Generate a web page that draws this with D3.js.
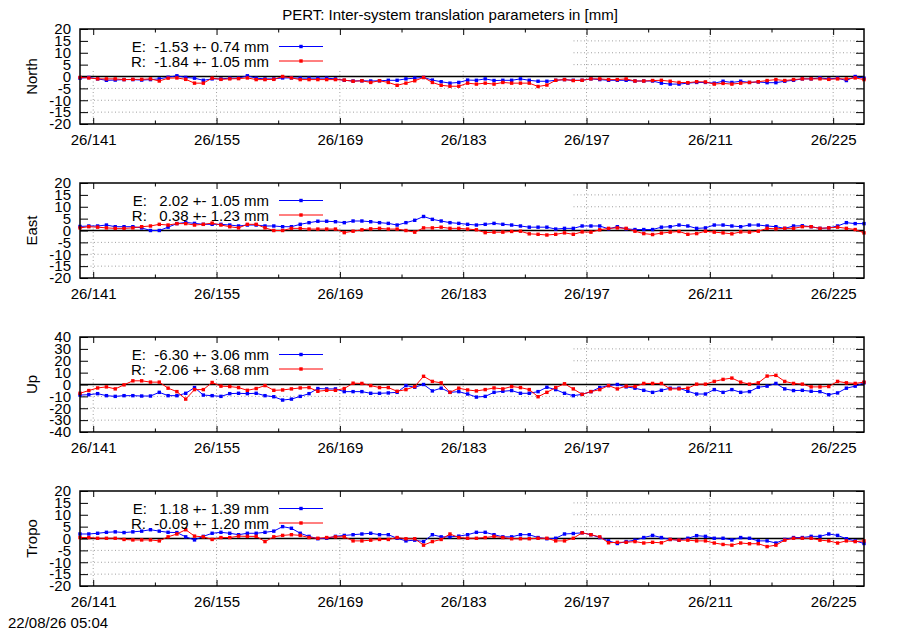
<!DOCTYPE html>
<html lang="en">

<head>
    <meta charset="UTF-8">
    <title>PERT: Inter-system translation parameters</title>
    <script src="https://d3js.org/d3.v7.min.js"></script>
    <style>
        body { margin: 0; background: #fff; }
        text { font-family: "Liberation Sans", Arial, sans-serif; font-size: 15px; fill: #000; }
    </style>
</head>

<body>
    <script>
        // day of year of the first daily solution (noon), year 2026
        var firstDay = 139.5;
        var lastDay = 228.5;
        var components = ["North", "East", "Up", "Tropo"];
        var yLimits = [20, 20, 40, 20];
        var yStep = [5, 5, 10, 5];
        var majorDays = [141, 155, 169, 183, 197, 211, 225];
        var minorDays = [148, 162, 176, 190, 204, 218];
        var tickYear = "26";
        var title = "PERT: Inter-system translation parameters in [mm]";
        var stamp = "22/08/26 05:04";

        // legend statistics (mean, rms) per component
        var eMean = [-1.53, 2.02, -6.30, 1.18];
        var eStd = [0.74, 1.05, 3.06, 1.39];
        var rMean = [-1.84, 0.38, -2.06, -0.09];
        var rStd = [1.05, 1.23, 3.68, 1.20];

        var northE = [-0.7, -0.4, -1.0, -1.6, -1.5, -1.3, -1.3, -1.5, -1.3, -1.0,
            -0.3, 0.3, -0.4, -0.7, -1.6, -1.0, -1.0, -0.7, -0.7, 0.3,
            -0.7, -1.0, -1.0, -0.6, -0.6, -0.7, -0.7, -0.7, -0.7, -1.0,
            -1.6, -1.9, -1.8, -1.9, -1.8, -1.6, -1.6, -1.0, -0.7, -0.4,
            -1.5, -2.2, -2.8, -2.5, -1.5, -1.6,
            -1.0, -1.7, -1.6, -1.6, -1.0, -1.6, -2.0, -2.0, -1.6, -1.3,
            -1.6, -1.6, -1.0, -1.3, -1.6, -1.6, -1.6, -1.9, -1.9, -1.9,
            -2.8, -3.2, -3.2, -2.8, -2.5, -2.5, -2.8, -2.0, -2.5, -2.0,
            -2.5, -2.3, -2.6, -2.6, -2.0, -1.6, -1.0, -1.0, -0.6, -1.0,
            -0.7, -1.7, 0.0, -0.7];
        var northR = [-0.4, -0.6, -1.0, -1.0, -1.0, -1.3, -1.2, -1.2, -1.0, -1.9,
            -0.7, -0.6, -1.2, -2.8, -2.8, -0.7, -1.2, -1.0, -0.9, -0.6,
            -1.3, -1.3, -1.2, 0.0, -0.6, -1.3, -1.3, -1.3, -1.3, -1.3,
            -1.5, -2.0, -1.8, -2.5, -1.8, -2.5, -3.7, -2.8, -1.8, -0.4,
            -2.5, -3.7, -4.1, -4.1, -2.8, -3.2,
            -2.8, -3.2, -2.5, -2.8, -2.8, -2.8, -4.2, -3.6, -1.6, -1.3,
            -1.7, -1.6, -1.0, -1.0, -1.3, -1.3, -1.0, -1.9, -1.9, -1.7,
            -1.6, -2.0, -2.5, -2.6, -2.2, -2.3, -3.2, -2.9, -3.2, -2.8,
            -2.5, -2.2, -1.7, -1.3, -1.7, -1.3, -1.0, -1.0, -1.0, -1.2,
            -1.0, -1.0, -0.6, -1.3];
        var eastE = [1.7, 1.9, 1.9, 2.3, 1.6, 1.6, 1.6, 1.1, 0.0, 0.0,
            1.4, 2.9, 3.4, 3.0, 2.6, 2.6, 2.6, 2.3, 1.9, 2.3,
            2.3, 1.9, 1.9, 1.6, 1.6, 2.6, 3.3, 3.9, 3.9, 3.7,
            3.3, 4.0, 4.0, 3.7, 3.3, 3.0, 2.3, 3.3, 4.3, 5.9,
            4.7, 4.0, 3.3, 3.0, 2.6, 2.3,
            2.6, 3.0, 2.6, 2.3, 1.9, 1.4, 1.4, 1.4, 0.6, 0.9,
            0.9, 1.9, 1.9, 1.9, 0.7, 1.6, 0.7, 0.4, 0.4, 0.4,
            1.4, 1.6, 2.3, 1.9, 0.9, 1.1, 2.3, 2.3, 1.9, 1.6,
            2.3, 2.3, 1.9, 1.6, 0.9, 1.9, 2.0, 1.6, 0.9, 1.1,
            1.9, 3.3, 2.9, 2.9];
        var eastR = [1.1, 1.6, 1.4, 1.1, 0.9, 0.9, 1.1, 1.6, 1.9, 2.6,
            2.3, 2.9, 2.9, 2.3, 2.6, 3.1, 2.3, 1.6, 1.1, 2.6,
            2.6, 1.1, 0.0, 0.0, 0.9, 0.9, 0.6, 0.6, 0.6, 0.6,
            -0.9, -0.3, 0.3, 0.7, 0.9, 0.6, 0.6, 0.0, -0.7, 1.1,
            1.1, 1.4, 0.9, 0.9, 0.6, 0.3,
            -0.9, -0.7, -0.7, -0.4, -0.3, -1.4, -1.6, -1.9, -1.6, -1.0,
            -1.6, -0.6, -0.7, 0.3, 0.9, 1.1, 0.9, -0.3, -1.3, -1.7,
            -1.1, -0.7, -0.4, -1.6, -1.3, -0.3, -0.7, -1.0, -1.4, -0.6,
            -0.7, -0.3, 0.9, 0.7, 0.9, 0.9, 1.6, 1.6, 0.9, 1.1,
            1.4, 0.9, 0.4, -1.0];
        var upE = [-8.9, -8.6, -7.7, -9.4, -10.0, -9.4, -9.4, -9.7, -9.7, -6.6,
            -9.4, -9.4, -7.4, -2.6, -8.9, -9.4, -10.0, -7.7, -7.4, -7.7,
            -7.4, -9.4, -10.3, -13.1, -12.3, -10.0, -7.7, -3.4, -3.7, -3.7,
            -6.0, -6.0, -6.0, -7.4, -7.4, -7.1, -6.6, -0.9, -2.3, 0.0,
            -5.4, -3.1, -6.6, -6.0, -8.0, -10.6,
            -10.0, -6.6, -5.7, -5.1, -7.4, -7.4, -6.0, -2.3, -4.3, -7.4,
            -9.4, -8.3, -6.0, -2.6, -0.9, 0.0, -2.0, -3.1, -4.9, -6.6,
            -4.9, -3.1, -3.1, -5.7, -8.0, -8.0, -4.3, -6.6, -4.3, -6.6,
            -6.0, -2.3, -1.4, 0.9, -3.7, -5.1, -4.9, -5.7, -6.0, -8.6,
            -7.1, -3.1, -1.4, 1.4];
        var upR = [-7.4, -5.1, -2.9, -2.0, -3.7, -0.3, 3.1, 3.1, 2.0, 2.0,
            -3.1, -6.0, -12.3, -4.3, -4.3, 1.7, -1.4, -1.7, -2.6, -4.9,
            -3.4, -0.9, -4.9, -4.6, -3.7, -2.9, -2.6, -5.7, -4.9, -4.9,
            -3.4, 1.1, 0.9, -0.9, -2.6, -2.6, -5.7, -4.3, -1.7, 6.9,
            2.6, 1.4, -6.6, -3.1, -4.6, -5.4,
            -4.3, -2.9, -3.7, -1.7, -2.6, -4.3, -10.3, -6.6, -2.6, 0.6,
            -3.7, -8.3, -6.0, -4.3, -0.9, -3.7, -1.4, -1.7, 0.9, 0.9,
            0.9, -3.7, -3.7, -3.1, 0.3, 0.3, 2.6, 4.3, 5.4, 2.0,
            0.3, 1.4, 7.1, 7.7, 2.6, 0.9, 0.3, -2.0, -2.0, -1.7,
            2.6, 1.4, 0.9, 2.0];
        var tropoE = [1.9, 1.9, 2.2, 2.6, 2.8, 2.5, 2.8, 3.1, 3.7, 3.1,
            2.6, 2.5, 0.7, -0.6, 0.9, 2.2, 2.6, 2.2, 1.6, 2.2,
            2.2, 2.6, 3.1, 5.0, 4.3, 2.2, 0.9, -0.1, 0.1, 0.9,
            1.3, 1.6, 1.9, 2.2, 1.6, 1.6, 0.1, -1.0, -0.7, -1.3,
            1.6, 0.7, 0.7, 1.0, 1.6, 2.6,
            2.6, 1.6, 0.7, 0.7, 1.6, 1.6, 0.4, -0.1, 0.1, 1.9,
            2.1, 2.4, 1.6, 0.4, -1.0, -2.1, -1.3, -0.7, 0.4, 1.3,
            0.4, -0.4, -0.7, 0.1, 1.2, 0.9, 0.1, 0.1, -0.6, 0.4,
            0.1, -1.0, -1.0, -1.9, -0.4, 0.4, 0.4, 0.9, 0.9, 1.9,
            1.3, -0.1, -1.0, -2.1];
        var tropoR = [0.4, 0.4, 0.1, 0.1, 0.1, -0.4, -0.6, -0.6, -0.6, -1.0,
            0.7, 1.9, 3.7, 1.0, 0.7, -0.4, 0.4, 0.4, 1.0, 0.9,
            0.9, -1.3, 0.7, 1.3, 1.6, 1.3, 0.4, 0.1, 0.4, 0.7,
            0.7, -1.0, -1.0, -0.7, -0.4, -0.4, 0.4, -0.1, -0.1, -2.8,
            -1.3, -0.4, 1.9, 0.4, 0.1, 0.1,
            0.4, 0.9, 0.4, -0.1, -0.1, -0.1, 0.1, 0.1, -1.0, -1.0,
            0.1, 2.4, 1.6, 0.7, -1.8, -1.6, -1.6, -1.3, -1.9, -1.6,
            -1.8, -0.4, -0.7, -0.7, -1.0, -1.0, -1.9, -2.5, -2.8, -1.9,
            -2.2, -2.2, -3.4, -2.8, -0.7, 0.1, 0.1, 0.1, -0.7, -1.0,
            -1.9, -1.0, -1.3, -1.0];

        var seriesE = [northE, eastE, upE, tropoE];
        var seriesR = [northR, eastR, upR, tropoR];

        // layout
        var width = 900;
        var height = 630;
        var plotLeft = 80;
        var plotRight = 864;
        var plotH = 95;
        var panelTops = [29, 183, 337, 491];
        var blue = "#0000ff";
        var red = "#ff0000";

        var svg = d3.select("body")
            .append("svg")
            .attr("width", width)
            .attr("height", height)
            .style("background-color", "#fff");

        var x = d3.scaleLinear()
            .domain([firstDay, lastDay])
            .range([plotLeft, plotRight]);

        var days = northE.map(function (d, i) { return firstDay + i; });

        // plain hyphen as minus sign, like the original plot
        var locale = d3.formatLocale({ decimal: ".", thousands: ",", grouping: [3], currency: ["", ""], minus: "-" });
        var num = locale.format(".2f");
        var intFmt = locale.format("d");
        function pad(s, n) { while (s.length < n) s = " " + s; return s; }
        function keyText(name, m, s) {
            return name + ": " + pad(num(m), 6) + " +-" + pad(num(s), 5) + " mm";
        }

        svg.append("text")
            .attr("x", 450)
            .attr("y", 20)
            .attr("text-anchor", "middle")
            .text(title);

        svg.append("text")
            .attr("x", 8)
            .attr("y", 628)
            .text(stamp);

        components.forEach(function (comp, p) {
            var g = svg.append("g")
                .attr("transform", "translate(0," + panelTops[p] + ")");
            var lim = yLimits[p];
            var y = d3.scaleLinear().domain([-lim, lim]).range([plotH, 0]);
            var yTicks = d3.range(-lim, lim + 0.001, yStep[p]);

            // grid
            g.selectAll("line.hgrid")
                .data(yTicks.filter(function (v) { return v !== 0 && Math.abs(v) !== lim; }))
                .enter().append("line")
                .attr("class", "hgrid")
                .attr("x1", plotLeft).attr("x2", plotRight)
                .attr("y1", function (v) { return y(v); })
                .attr("y2", function (v) { return y(v); })
                .attr("stroke", "#a0a0a0")
                .attr("stroke-width", 1)
                .attr("stroke-dasharray", "1,2.5");
            g.selectAll("line.vgrid")
                .data(majorDays)
                .enter().append("line")
                .attr("class", "vgrid")
                .attr("x1", function (d) { return x(d); })
                .attr("x2", function (d) { return x(d); })
                .attr("y1", 0).attr("y2", plotH)
                .attr("stroke", "#a0a0a0")
                .attr("stroke-width", 1)
                .attr("stroke-dasharray", "1,2.5");

            // opaque key area
            g.append("rect")
                .attr("x", plotLeft)
                .attr("y", 0)
                .attr("width", 493)
                .attr("height", 41)
                .attr("fill", "#fff");

            // zero line
            g.append("line")
                .attr("x1", plotLeft).attr("x2", plotRight)
                .attr("y1", y(0)).attr("y2", y(0))
                .attr("stroke", "#000")
                .attr("stroke-width", 1.5);

            // axes (ticks inward, no domain path)
            var axL = g.append("g")
                .attr("transform", "translate(" + plotLeft + ",0)")
                .call(d3.axisLeft(y).tickValues(yTicks).tickSize(-8).tickPadding(9).tickFormat(intFmt));
            var axR = g.append("g")
                .attr("transform", "translate(" + plotRight + ",0)")
                .call(d3.axisRight(y).tickValues(yTicks).tickSize(-8).tickFormat(""));
            var axB = g.append("g")
                .attr("transform", "translate(0," + plotH + ")")
                .call(d3.axisBottom(x).tickValues(majorDays).tickSize(-6).tickPadding(10)
                    .tickFormat(function (d) { return tickYear + "/" + d; }));
            var axBm = g.append("g")
                .attr("transform", "translate(0," + plotH + ")")
                .call(d3.axisBottom(x).tickValues(minorDays).tickSize(-3.5).tickFormat(""));
            var axT = g.append("g")
                .call(d3.axisTop(x).tickValues(majorDays).tickSize(-6).tickFormat(""));
            var axTm = g.append("g")
                .call(d3.axisTop(x).tickValues(minorDays).tickSize(-3.5).tickFormat(""));
            [axL, axR, axB, axBm, axT, axTm].forEach(function (a) {
                a.select(".domain").remove();
                a.selectAll(".tick line").attr("stroke", "#000").attr("stroke-width", 1);
                a.selectAll("text")
                    .attr("font-family", "Liberation Sans, Arial, sans-serif")
                    .attr("font-size", 15)
                    .attr("fill", "#000");
            });

            // data
            var line = d3.line()
                .x(function (d, i) { return x(days[i]); })
                .y(function (d) { return y(d); });
            [[seriesE[p], blue], [seriesR[p], red]].forEach(function (s) {
                g.append("path")
                    .datum(s[0])
                    .attr("fill", "none")
                    .attr("stroke", s[1])
                    .attr("stroke-width", 1)
                    .attr("d", line);
                g.selectAll(null)
                    .data(s[0])
                    .enter().append("rect")
                    .attr("x", function (d, i) { return x(days[i]) - 1.7; })
                    .attr("y", function (d) { return y(d) - 1.7; })
                    .attr("width", 3.4)
                    .attr("height", 3.4)
                    .attr("fill", s[1]);
            });

            // border
            g.append("rect")
                .attr("x", plotLeft)
                .attr("y", 0)
                .attr("width", plotRight - plotLeft)
                .attr("height", plotH)
                .attr("fill", "none")
                .attr("stroke", "#000")
                .attr("stroke-width", 1.5);

            // key
            var keys = [
                [keyText("E", eMean[p], eStd[p]), blue],
                [keyText("R", rMean[p], rStd[p]), red]
            ];
            keys.forEach(function (k, j) {
                var ky = 17.5 + j * 14.5;
                g.append("text")
                    .attr("x", 269)
                    .attr("y", ky + 5.5)
                    .attr("text-anchor", "end")
                    .style("white-space", "pre")
                    .text(k[0]);
                g.append("line")
                    .attr("x1", 279).attr("x2", 323)
                    .attr("y1", ky).attr("y2", ky)
                    .attr("stroke", k[1])
                    .attr("stroke-width", 1);
                g.append("rect")
                    .attr("x", 301 - 1.7).attr("y", ky - 1.7)
                    .attr("width", 3.4).attr("height", 3.4)
                    .attr("fill", k[1]);
            });

            // y label
            g.append("text")
                .attr("transform", "translate(37," + (plotH / 2) + ") rotate(-90)")
                .attr("text-anchor", "middle")
                .text(comp);
        });
    </script>
</body>

</html>
